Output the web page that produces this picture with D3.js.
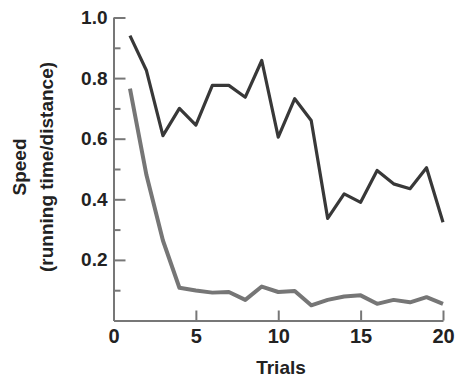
<!DOCTYPE html>
<html>
<head>
<meta charset="utf-8">
<script src="https://cdn.jsdelivr.net/npm/d3@7"></script>
<style>
  body { margin: 0; background: #fff; }
  svg { display: block; }
  text { font-family: "Liberation Sans", Arial, sans-serif; font-weight: bold; fill: #222; }
</style>
</head>
<body>
<div id="chart"></div>
<script>
// data
const trials = [1, 2, 3, 4, 5, 6, 7, 8, 9, 10, 11, 12, 13, 14, 15, 16, 17, 18, 19, 20];
const upper = [0.94, 0.825, 0.61, 0.70, 0.645, 0.776, 0.776, 0.737, 0.858, 0.605,
               0.732, 0.66, 0.337, 0.418, 0.39, 0.495, 0.451, 0.435, 0.504, 0.324];
const lower = [0.765, 0.48, 0.264, 0.108, 0.099, 0.092, 0.094, 0.068, 0.112, 0.094,
               0.097, 0.05, 0.068, 0.079, 0.083, 0.055, 0.068, 0.06, 0.077, 0.055];
const xTicks = [0, 5, 10, 15, 20];
const yTicks = [0.2, 0.4, 0.6, 0.8, 1.0];
const yMinor = [0.1, 0.3, 0.5, 0.7, 0.9];

const w = 458, h = 379;

const x = d3.scaleLinear().domain([0, 20]).range([113.5, 443]);
const y = d3.scaleLinear().domain([0, 1]).range([320.5, 17.5]);

const svg = d3.select('#chart').append('svg')
  .attr('width', w)
  .attr('height', h);

// y axis (ticks point inward)
const yAxis = svg.append('g')
  .attr('transform', `translate(${x(0)},0)`)
  .call(d3.axisLeft(y).tickValues(yTicks).tickFormat(d3.format('.1f'))
    .tickSizeInner(-12).tickSizeOuter(0).tickPadding(6));

svg.append('g')
  .attr('transform', `translate(${x(0)},0)`)
  .call(d3.axisLeft(y).tickValues(yMinor).tickFormat('')
    .tickSizeInner(-7).tickSizeOuter(0))
  .select('.domain').remove();

const xAxis = svg.append('g')
  .attr('transform', `translate(0,${y(0)})`)
  .call(d3.axisBottom(x).tickValues(xTicks)
    .tickSizeInner(-10).tickSizeOuter(0).tickPadding(8));

svg.selectAll('.domain, .tick line')
  .attr('stroke', '#777')
  .attr('stroke-width', 2);

yAxis.selectAll('text').style('font-size', '19px').attr('fill', '#222');
xAxis.selectAll('text').style('font-size', '20px').attr('fill', '#222');
svg.selectAll('g').attr('font-family', null).attr('font-size', null);

// lines
const line = (vals) => d3.line()
  .x((d, i) => x(trials[i]))
  .y(d => y(d))(vals);

svg.append('path')
  .attr('d', line(lower))
  .attr('fill', 'none')
  .attr('stroke', '#767676')
  .attr('stroke-width', 4)
  .attr('stroke-linejoin', 'round');

svg.append('path')
  .attr('d', line(upper))
  .attr('fill', 'none')
  .attr('stroke', '#383838')
  .attr('stroke-width', 3.2)
  .attr('stroke-linejoin', 'round');

// axis titles
svg.append('text')
  .attr('x', 281)
  .attr('y', 374)
  .attr('text-anchor', 'middle')
  .style('font-size', '19px')
  .text('Trials');

svg.append('text')
  .attr('transform', 'translate(26,167) rotate(-90)')
  .attr('text-anchor', 'middle')
  .style('font-size', '19px')
  .text('Speed');

svg.append('text')
  .attr('transform', 'translate(53,167) rotate(-90)')
  .attr('text-anchor', 'middle')
  .style('font-size', '19px')
  .text('(running time/distance)');
</script>
</body>
</html>
